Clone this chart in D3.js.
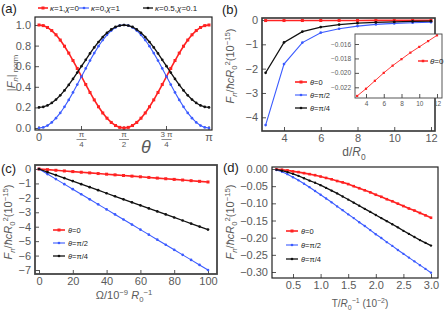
<!DOCTYPE html>
<html>
<head>
<meta charset="utf-8">
<script src="https://cdn.jsdelivr.net/npm/d3@7"></script>
<style>
    body { margin: 0; background: #fff; }
    svg  { font-family: 'Liberation Sans', Arial, sans-serif; }
    .tick text { fill: #5a5a5a; }
    .tick line { stroke: #555; }
</style>
</head>
<body>
<svg id="chart" width="447" height="316"></svg>
<script>
// (a) normalised force vs angle (theta in units of pi)
const thetaPi = [0, .025, .05, .075, .1, .125, .15, .175, .2, .225, .25, .275, .3, .325, .35, .375, .4, .425, .45, .475,
    .5, .525, .55, .575, .6, .625, .65, .675, .7, .725, .75, .775, .8, .825, .85, .875, .9, .925, .95, .975, 1]
const normK1  = [1, .994, .976, .946, .905, .854, .794, .727, .655, .578, .5, .422, .345, .273, .206, .146, .095, .054, .024, .006,
    0, .006, .024, .054, .095, .146, .206, .273, .345, .422, .5, .578, .655, .727, .794, .854, .905, .946, .976, .994, 1]
const normK0  = [0, .006, .024, .054, .095, .146, .206, .273, .345, .422, .5, .578, .655, .727, .794, .854, .905, .946, .976, .994,
    1, .994, .976, .946, .905, .854, .794, .727, .655, .578, .5, .422, .345, .273, .206, .146, .095, .054, .024, .006, 0]
const normK05 = [.2, .205, .219, .243, .276, .317, .365, .418, .476, .538, .6, .662, .724, .782, .835, .883, .924, .957, .981, .995,
    1, .995, .981, .957, .924, .883, .835, .782, .724, .662, .6, .538, .476, .418, .365, .317, .276, .243, .219, .205, .2]
const aLegend = [['κ', '=1,', 'χ', '=0'], ['κ', '=0,', 'χ', '=1'], ['κ', '=0.5,', 'χ', '=0.1']]
const aTicks  = [[0, '0'], [.25, 'π', '4'], [.5, 'π', '2'], [.75, '3 π', '4'], [1, 'π']]

// (b) force vs separation
const dist       = [3, 4, 5, 6, 7, 8, 9, 10, 11, 12]
const distTheta0 = [-.0232, -.0222, -.0211, -.0200, -.0190, -.0181, -.0172, -.0164, -.0156, -.0148]
const distHalf   = [-4.32, -1.81, -.93, -.52, -.36, -.25, -.18, -.14, -.11, -.09]
const distQuart  = [-2.17, -.92, -.48, -.29, -.19, -.13, -.10, -.08, -.06, -.05]

// (c) force vs rotation
const omega       = [0, 5, 10, 15, 20, 25, 30, 35, 40, 45, 50, 55, 60, 65, 70, 75, 80, 85, 90, 95, 100]
const omegaTheta0 = [0, -.045, -.09, -.135, -.18, -.225, -.27, -.315, -.36, -.405, -.45, -.495, -.54, -.585, -.63, -.675, -.72, -.765, -.81, -.855, -.9]
const omegaHalf   = [0, -.35, -.7, -1.05, -1.4, -1.75, -2.1, -2.45, -2.8, -3.15, -3.5, -3.85, -4.2, -4.55, -4.9, -5.25, -5.6, -5.95, -6.3, -6.65, -7.0]
const omegaQuart  = [0, -.21, -.42, -.63, -.84, -1.05, -1.26, -1.47, -1.68, -1.89, -2.1, -2.31, -2.52, -2.73, -2.94, -3.15, -3.36, -3.57, -3.78, -3.99, -4.2]

// (d) force vs temperature
const temp       = [.2, .3, .4, .5, .6, .7, .8, .9, 1, 1.1, 1.2, 1.3, 1.4, 1.5, 1.6, 1.7, 1.8, 1.9, 2, 2.1, 2.2, 2.3, 2.4, 2.5, 2.6, 2.7, 2.8, 2.9, 3]
const tempTheta0 = [-.001, -.002, -.004, -.007, -.009, -.012, -.015, -.018, -.022, -.026, -.030, -.035, -.039, -.044, -.050,
    -.056, -.062, -.068, -.075, -.081, -.088, -.094, -.101, -.108, -.115, -.121, -.128, -.135, -.142]
const tempHalf   = [-.003, -.008, -.015, -.024, -.033, -.043, -.053, -.064, -.075, -.086, -.097, -.109, -.120, -.132, -.143,
    -.155, -.166, -.178, -.190, -.201, -.213, -.224, -.236, -.247, -.258, -.269, -.280, -.291, -.302]
const tempQuart  = [-.002, -.005, -.009, -.014, -.020, -.027, -.034, -.040, -.047, -.055, -.063, -.071, -.080, -.089, -.098,
    -.107, -.116, -.125, -.134, -.143, -.152, -.161, -.170, -.180, -.189, -.198, -.207, -.215, -.223]

const thetaLegend = [['θ', '=0'], ['θ', '=π/2'], ['θ', '=π/4']]

const RED = '#ff2222', BLUE = '#3b5bff', BLACK = '#111'
const series = [
    { color: RED,   width: 1.6, marker: 'square' },
    { color: BLUE,  width: 1.1, marker: 'dot' },
    { color: BLACK, width: 1.3, marker: 'dot' }
]

const svg = d3.select('#chart')

// text with sub / superscripts: parts = [text, pos, italic]
const rich = (sel, parts, size) => {
    let shift = 0
    parts.forEach(([str, pos, it]) => {
        const target = pos === 'sub' ? size * 0.3 : pos === 'sup' ? -size * 0.4 : 0
        sel.append('tspan')
            .attr('dy', target - shift)
            .style('font-size', `${pos ? size * 0.7 : size}px`)
            .style('font-style', it ? 'italic' : 'normal')
            .text(str)
        shift = target
    })
    return sel
}

const frame = (g, f, stroke, sw) =>
    g.append('rect')
        .attr('x', f.l).attr('y', f.t)
        .attr('width', f.r - f.l).attr('height', f.b - f.t)
        .attr('fill', 'none')
        .attr('stroke', stroke)
        .attr('stroke-width', sw)

const drawSeries = (g, x, y, xs, ys, s, msize) => {
    const pts = xs.map((v, i) => [v, ys[i]])
    g.append('path')
        .datum(pts)
        .attr('fill', 'none')
        .attr('stroke', s.color)
        .attr('stroke-width', s.width)
        .attr('d', d3.line().x(d => x(d[0])).y(d => y(d[1])))
    drawMarkers(g, pts.map(d => [x(d[0]), y(d[1])]), s, msize)
}

const drawMarkers = (g, pts, s, msize) => {
    if (s.marker === 'square') {
        g.selectAll(null).data(pts).enter().append('rect')
            .attr('x', d => d[0] - msize / 2).attr('y', d => d[1] - msize / 2)
            .attr('width', msize).attr('height', msize)
            .attr('fill', s.color)
    } else {
        g.selectAll(null).data(pts).enter().append('circle')
            .attr('cx', d => d[0]).attr('cy', d => d[1])
            .attr('r', msize * 0.45)
            .attr('fill', s.color)
    }
}

const legend = (g, x0, ys, labels, size) => {
    labels.forEach((lab, i) => {
        const s = series[i]
        g.append('line')
            .attr('x1', x0).attr('x2', x0 + 12)
            .attr('y1', ys[i]).attr('y2', ys[i])
            .attr('stroke', s.color).attr('stroke-width', s.width)
        drawMarkers(g, [[x0 + 6, ys[i]]], s, 3)
        const t = g.append('text')
            .attr('x', x0 + 15).attr('y', ys[i] + 3)
            .style('font-size', `${size}px`)
            .attr('fill', '#222')
        lab.forEach((p, j) => t.append('tspan').style('font-style', j % 2 ? 'normal' : 'italic').text(p))
    })
}

const axes = (g, f, x, y, xt, yt, xf, yf, size) => {
    g.append('g')
        .attr('transform', `translate(0,${f.b})`)
        .call(d3.axisBottom(x).tickValues(xt).tickFormat(xf).tickSize(-4).tickPadding(3))
        .call(a => a.select('.domain').remove())
        .call(a => a.selectAll('text').style('font-size', `${size}px`))
    g.append('g')
        .attr('transform', `translate(${f.l},0)`)
        .call(d3.axisLeft(y).tickValues(yt).tickFormat(yf).tickSize(-4).tickPadding(4))
        .call(a => a.select('.domain').remove())
        .call(a => a.selectAll('text').style('font-size', `${size}px`))
}

const panelLabel = (txt, x, y) =>
    svg.append('text')
        .attr('x', x).attr('y', y)
        .style('font-size', '13px')
        .attr('fill', '#222')
        .text(txt)

const forceLabel = (cx, cy) =>
    rich(svg.append('text')
        .attr('transform', `translate(${cx},${cy}) rotate(-90)`)
        .attr('text-anchor', 'middle')
        .attr('fill', '#5a5a5a'),
    [['F', '', true], ['n', 'sub', true], ['/', ''], ['ħcR', '', true], ['0', 'sub'], ['2', 'sup'], ['(10', ''], ['−15', 'sup'], [')', '']], 11)

// ---------- (a) ----------
{
    const f = { l: 35, r: 212, t: 17, b: 130 }
    const g = svg.append('g')
    const x = d3.scaleLinear().domain([0, 1]).range([39, 209])
    const y = d3.scaleLinear().domain([0, 1]).range([128, 25])

    g.append('g')
        .attr('transform', `translate(${f.l},0)`)
        .call(d3.axisLeft(y).tickValues([0, .2, .4, .6, .8, 1]).tickFormat(d3.format('.1f')).tickSize(-4).tickPadding(4))
        .call(a => a.select('.domain').remove())
        .call(a => a.selectAll('text').style('font-size', '11px'))

    const xa = g.append('g')
    aTicks.forEach(([v, num, den]) => {
        xa.append('line')
            .attr('x1', x(v)).attr('x2', x(v))
            .attr('y1', f.b).attr('y2', f.b - 4)
            .attr('stroke', '#555')
        if (den) {
            xa.append('text').attr('x', x(v)).attr('y', 137)
                .attr('text-anchor', 'middle').style('font-size', '8px').attr('fill', '#5a5a5a').text(num)
            xa.append('line')
                .attr('x1', x(v) - 5).attr('x2', x(v) + 5)
                .attr('y1', 139.5).attr('y2', 139.5)
                .attr('stroke', '#5a5a5a').attr('stroke-width', 0.7)
            xa.append('text').attr('x', x(v)).attr('y', 147)
                .attr('text-anchor', 'middle').style('font-size', '8px').attr('fill', '#5a5a5a').text(den)
        } else {
            xa.append('text').attr('x', x(v)).attr('y', 141)
                .attr('text-anchor', 'middle').style('font-size', '11px').attr('fill', '#5a5a5a').text(num)
        }
    })

    ;[normK1, normK0, normK05].forEach((ys, i) => drawSeries(g, x, y, thetaPi, ys, series[i], 3))
    frame(g, f, '#222', 1.2)

    // legend on top
    const lx = [38, 79, 143]
    aLegend.forEach((lab, i) => {
        const s = series[i]
        g.append('line')
            .attr('x1', lx[i]).attr('x2', lx[i] + 10)
            .attr('y1', 8).attr('y2', 8)
            .attr('stroke', s.color).attr('stroke-width', s.width)
        drawMarkers(g, [[lx[i] + 5, 8]], s, 3)
        const t = g.append('text')
            .attr('x', lx[i] + 12).attr('y', 11)
            .style('font-size', '8px')
            .attr('fill', '#222')
        lab.forEach((p, j) => t.append('tspan').style('font-style', j % 2 ? 'normal' : 'italic').text(p))
    })

    rich(svg.append('text')
        .attr('transform', 'translate(15,73) rotate(-90)')
        .attr('text-anchor', 'middle')
        .attr('fill', '#5a5a5a'),
    [['|', ''], ['F', '', true], ['n', 'sub', true], ['|', ''], [' norm', 'sub']], 11)

    svg.append('text')
        .attr('x', 146).attr('y', 153)
        .attr('text-anchor', 'middle')
        .style('font-size', '18px').style('font-style', 'italic')
        .attr('fill', '#5a5a5a')
        .text('θ')

    panelLabel('(a)', 1, 13)
}

// ---------- (b) ----------
{
    const f = { l: 262, r: 435, t: 18, b: 131 }
    const g = svg.append('g')
    const x = d3.scaleLinear().domain([4, 12]).range([284, 431])
    const y = d3.scaleLinear().domain([0, -4]).range([20, 117.3])

    axes(g, f, x, y, [4, 6, 8, 10, 12], [0, -1, -2, -3, -4], d3.format('d'), d3.format('d'), 11)
    ;[distTheta0, distHalf, distQuart].forEach((ys, i) => drawSeries(g, x, y, dist, ys, series[i], 3))
    frame(g, f, '#333', 1.6)
    legend(g, 295, [82, 95, 108], thetaLegend, 7.5)

    // inset
    const fi = { l: 355, r: 442, t: 34, b: 98 }
    const gi = svg.append('g')
    gi.append('rect')
        .attr('x', fi.l).attr('y', fi.t)
        .attr('width', fi.r - fi.l).attr('height', fi.b - fi.t)
        .attr('fill', '#fff')
    const xi = d3.scaleLinear().domain([4, 12]).range([366, 437])
    const yi = d3.scaleLinear().domain([-.016, -.022]).range([44, 87.3])
    axes(gi, fi, xi, yi, [4, 6, 8, 10, 12], [-.016, -.018, -.020, -.022], d3.format('d'), d3.format('.3f'), 6.5)
    drawSeries(gi, xi, yi, dist, distTheta0, { color: RED, width: 0.9, marker: 'square' }, 2.2)
    frame(gi, fi, '#444', 0.9)
    gi.append('line')
        .attr('x1', 418).attr('x2', 428).attr('y1', 61).attr('y2', 61)
        .attr('stroke', RED).attr('stroke-width', 1.4)
    drawMarkers(gi, [[423, 61]], series[0], 2.5)
    gi.append('text')
        .attr('x', 430).attr('y', 64)
        .style('font-size', '8px').attr('fill', '#222')
        .call(t => {
            t.append('tspan').style('font-style', 'italic').text('θ')
            t.append('tspan').text('=0')
        })

    forceLabel(234, 66)
    rich(svg.append('text')
        .attr('x', 354).attr('y', 156)
        .attr('text-anchor', 'middle')
        .attr('fill', '#5a5a5a'),
    [['d/', ''], ['R', '', true], ['0', 'sub']], 12)

    panelLabel('(b)', 222, 14)
}

// ---------- (c) ----------
{
    const f = { l: 35, r: 217, t: 165, b: 274 }
    const g = svg.append('g')
    const x = d3.scaleLinear().domain([0, 100]).range([39, 208])
    const y = d3.scaleLinear().domain([0, -7]).range([169, 270])

    axes(g, f, x, y, [0, 20, 40, 60, 80, 100], [0, -1, -2, -3, -4, -5, -6, -7], d3.format('d'), d3.format('d'), 11)
    ;[omegaTheta0, omegaHalf, omegaQuart].forEach((ys, i) => drawSeries(g, x, y, omega, ys, series[i], 3))
    frame(g, f, '#444', 1.8)
    legend(g, 53, [230, 243, 256], thetaLegend, 7.5)

    forceLabel(12, 222)
    rich(svg.append('text')
        .attr('x', 124).attr('y', 299)
        .attr('text-anchor', 'middle')
        .attr('fill', '#5a5a5a'),
    [['Ω/10', ''], ['−9', 'sup'], [' ', ''], ['R', '', true], ['0', 'sub'], ['−1', 'sup']], 11)

    panelLabel('(c)', 1, 173)
}

// ---------- (d) ----------
{
    const f = { l: 272, r: 438, t: 167, b: 278 }
    const g = svg.append('g')
    const x = d3.scaleLinear().domain([.5, 3]).range([293, 431])
    const y = d3.scaleLinear().domain([0, -.3]).range([169, 272])

    axes(g, f, x, y, [.5, 1, 1.5, 2, 2.5, 3], [0, -.05, -.1, -.15, -.2, -.25, -.3], d3.format('.1f'), d3.format('.2f'), 11)
    ;[tempTheta0, tempHalf, tempQuart].forEach((ys, i) => drawSeries(g, x, y, temp, ys, series[i], 2.6))
    frame(g, f, '#222', 1.2)
    legend(g, 286, [231, 245, 259], thetaLegend, 7.5)

    forceLabel(234, 222)
    rich(svg.append('text')
        .attr('x', 360).attr('y', 307)
        .attr('text-anchor', 'middle')
        .attr('fill', '#5a5a5a'),
    [['T/', ''], ['R', '', true], ['0', 'sub'], ['−1', 'sup'], [' (10', ''], ['−2', 'sup'], [')', '']], 10)

    panelLabel('(d)', 223, 172)
}
</script>
</body>
</html>
